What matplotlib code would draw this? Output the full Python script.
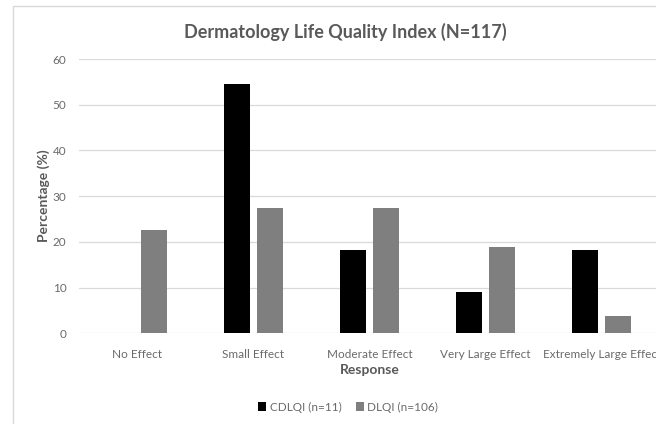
import matplotlib
matplotlib.use("Agg")
import matplotlib.pyplot as plt
import numpy as np
from matplotlib.patches import Rectangle

plt.rcParams['font.family'] = ['Lato', 'DejaVu Sans']

# data
categories = ["No Effect", "Small Effect", "Moderate Effect", "Very Large Effect", "Extremely Large Effect"]
cdlqi = [0, 54.5, 18.2, 9.1, 18.2]   # CDLQI (n=11)
dlqi = [22.6, 27.4, 27.4, 18.9, 3.8]  # DLQI (n=106)
yticks = [0, 10, 20, 30, 40, 50, 60]

W, H = 656, 424
text_col = '#595959'
tick_col = '#6a6a6a'
grid_col = '#d9d9d9'

fig = plt.figure(figsize=(W / 100, H / 100), dpi=100)
ax = fig.add_axes([79 / W, 90.7 / H, 581 / W, 274.3 / H])

x = np.arange(len(categories))
bw = 0.224
off = 0.142
ax.bar(x - off, cdlqi, bw, color='#000000', label='CDLQI (n=11)', zorder=3)
ax.bar(x + off, dlqi, bw, color='#7f7f7f', label='DLQI (n=106)', zorder=3)

ax.set_xlim(-0.5, len(categories) - 0.5)
ax.set_ylim(0, 60)
ax.set_yticks(yticks)
ax.set_xticks(x)
ax.set_xticklabels(categories)
ax.tick_params(axis='both', length=0, labelsize=8.5, colors=tick_col)
ax.tick_params(axis='y', pad=9)
ax.tick_params(axis='x', pad=11)
ax.grid(axis='y', color=grid_col, linewidth=0.9, zorder=0)
for s in ax.spines.values():
    s.set_visible(False)

ax.set_xlabel('Response', fontsize=10, fontweight='bold', color=text_col, labelpad=3)
ax.set_ylabel('Percentage (%)', fontsize=10, fontweight='bold', color=text_col, labelpad=2)

fig.text(345 / W, 1 - 32 / H, 'Dermatology Life Quality Index (N=117)',
         ha='center', va='center', fontsize=13, fontweight='bold', color=text_col)

fig.legend(loc='center', bbox_to_anchor=(348 / W, 1 - 407 / H), ncol=2, frameon=False,
           fontsize=8.5, handlelength=0.7, handleheight=0.7, handletextpad=0.3,
           columnspacing=1.2, labelcolor=tick_col)

# chart area border
fig.patches.append(Rectangle((13 / W, -0.1), 1.2, 1.1 - 6 / H, transform=fig.transFigure,
                             fill=False, edgecolor=grid_col, linewidth=1))

fig.savefig('out.png', dpi=100)
